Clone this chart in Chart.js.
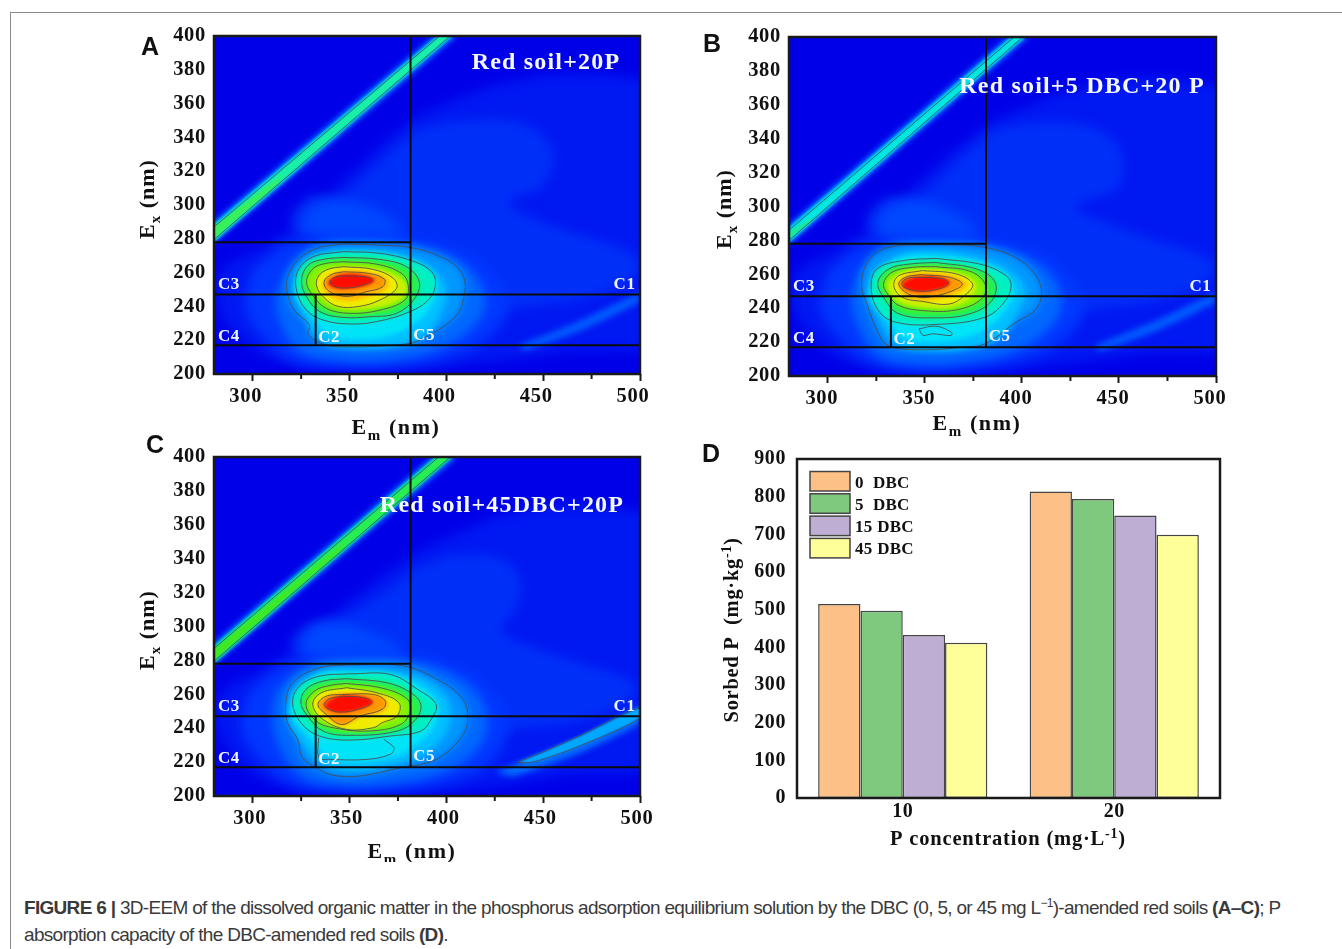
<!DOCTYPE html>
<html><head><meta charset="utf-8">
<script src="https://cdn.jsdelivr.net/npm/chart.js@4"></script>
<style>
html,body{margin:0;padding:0;background:#fff;width:1342px;height:949px;overflow:hidden}
canvas{position:absolute;display:block}
#topline{position:absolute;left:10px;top:12px;right:0;height:1px;background:#8a8a8a}
#leftline{position:absolute;left:10px;top:12px;bottom:0;width:1px;background:#8a8a8a}
.cap{position:absolute;left:24px;white-space:nowrap;font-family:"Liberation Sans",sans-serif;font-size:19px;color:#3a3a3a;letter-spacing:-.69px;line-height:20px}
.cap sup{font-size:12px;line-height:0}
</style></head><body>
<div id="topline"></div><div id="leftline"></div>
<canvas id="pa"></canvas><canvas id="pb"></canvas><canvas id="pc"></canvas><canvas id="pd"></canvas>
<div class="cap" style="top:898px"><b>FIGURE 6 |</b> 3D-EEM of the dissolved organic matter in the phosphorus adsorption equilibrium solution by the DBC (0, 5, or 45 mg L<sup>−1</sup>)-amended red soils <b>(A–C)</b>; P</div>
<div class="cap" style="top:925px">absorption capacity of the DBC-amended red soils <b>(D)</b>.</div>
<script>
// ---------- Panel D values ----------
const pConcentrations = ['10','20'];
const dbcLabels = ['0  DBC','5  DBC','15 DBC','45 DBC'];
const sorbed0 = [515,814];
const sorbed5 = [497,794];
const sorbed15 = [433,750];
const sorbed45 = [412,699];
const barColors = ['#FDC086','#7FC97F','#BEAED4','#FFFF99'];

// ---------- EEM axes ----------
const emTicks = [300,350,400,450,500];
const emMinorTicks = [325,375,425,475];

// ---------- Region boxes, [Em,Ex] ----------
const regionLines = [
 [[280,278],[381.5,278]],[[381.5,400],[381.5,217]],[[280,247],[500,247]],[[280,217],[500,217]],[[332.5,247],[332.5,217]]
];
const regionLabelsAt = {C1:[492,253],C2:[339.5,221.5],C3:[287.7,253],C4:[287.7,222],C5:[388.5,223]};

// ---------- Colour levels ----------
const levelFaint = ['#0018f2','#0030f8','#0048ff'];
const levelRings = ['#0038ff','#0068ff','#0098ff','#00c0ff','#00e4f8','#00f0c0','#28f048','#88f000','#c8f000','#f0ec00','#ffc000','#ff9800','#ff4000','#ff0c00'];
const ringBlur = [6,5,4,3,2.5,2.5,2,2,1.5,1.5,1.5,1.5,1.5,1.5];

// ---------- Panel A contours ----------
const contoursA = [
 [[346.7,276.9],[364,276.3],[381.2,274.9],[394.9,270.4],[405.3,263.5],[409.6,254.6],[408.7,243.8],[406.1,235.9],[398.4,228],[388,221.1],[381.2,218.1],[365.7,216.5],[346.7,216.1],[338.1,217.1],[328.7,223],[329.2,229],[320.9,238.8],[317.5,253.6],[322.6,266.4],[333,274.3]],
 [[346.7,272.4],[365.7,271.4],[381.2,267.4],[391.5,261.5],[394.4,254.6],[391.5,244.8],[381.2,236.9],[364,231],[350.2,229.6],[336.4,231.9],[327.8,237.8],[322.6,249.7],[323.5,261.5],[331.3,269.4]],
 [[346.7,269],[365.7,267.8],[379.4,263.5],[386,254.6],[383.7,244.8],[374.3,235.9],[360.5,233.9],[346.7,233.5],[334.7,236.9],[327.8,245.7],[325.2,255.6],[328.7,264.5],[336.4,267.8]],
 [[346.7,266.4],[364,265],[376.9,259.5],[380.3,252.6],[378.6,243.8],[365.7,237.8],[350.2,235.9],[338.1,238.8],[331.3,246.1],[327.8,254.6],[331.3,262.5],[338.1,265.5]],
 [[346.7,263.5],[362.2,261.9],[372.6,256.6],[374.3,250.7],[365.7,243.8],[355,240],[344,240],[337,245],[333,252],[334,258],[339,262]],
 [[347,260.5],[360,259.5],[368,256],[367,251.5],[358,248.5],[350,246],[343,247],[338,250.5],[337,255],[341,259]],
 [[346,258],[358,257.5],[362,255.5],[358,253],[350,251],[343,251.5],[340,254.5],[342,257]]
];
const fillsA = [
 [[300,262],[320,278],[350,283],[385,281],[410,272],[425,258],[432,240],[425,225],[410,213],[380,205],[345,204],[320,208],[305,222],[296,240]],
 [[318,262],[330,275],[350,279],[385,276],[405,268],[417,255],[420,240],[412,226],[395,214],[370,208],[345,208],[325,213],[315,228],[312,245]],
 [[326,260],[336,270],[352,273],[378,270],[393,262],[400,250],[398,238],[390,224],[374,216.5],[350,215.5],[335,220],[326,235],[322,248]],
 [[324,258],[336,268],[352,271],[376,268],[390,260],[395,250],[392,240],[384,230],[370,222.5],[350,220.5],[337,225],[329,237],[322,248]],
 [[333,256],[341,262],[354,263],[368,261],[378,255],[379,248],[372,242],[360,239],[347,239],[338,243],[334,249]],
 [[339,258],[347,261.5],[360,260.5],[370,256],[369,250],[358,245],[348,243],[340,246],[336,252]],
 [[339.5,255.5],[346,259],[357,258.5],[363,255.5],[357,252],[345,250.5],[339,253]]
];
const faintA = [
 [[515,372],[470,378],[430,372],[400,360],[382,350],[350,318],[322,288],[305,275],[285,262],[282,240],[300,215],[325,205],[370,202],[420,207],[460,213],[515,225]],
 [[385,345],[410,350],[440,348],[455,332],[450,312],[432,302],[445,292],[470,282],[495,272],[500,262],[480,248],[440,240],[410,240],[400,272],[365,280],[330,280],[320,290],[330,305],[345,305],[365,325]],
 [[325,285],[330,298],[345,303],[362,298],[375,288],[375,278],[345,278]]
];
const bandA = [
 [[280,277],[406,400],[393,400],[280,291]],
 [[280,278],[403.5,400],[395,400],[280,289]],
 [[280,279.5],[402,400],[396.5,400],[280,287]],
 [[280,280],[312,312],[316,318],[280,287.5]]
];
const tailA = [[438,217],[470,232],[500,248],[500,243],[470,226],[440,214]];

// ---------- Panel B contours ----------
const contoursB = [
 [[355.7,277.5],[381,275.9],[399.3,268],[409.4,254.3],[408,240.6],[395.8,230.8],[381,219],[369.7,217],[348.8,215.5],[331,218],[325,228],[320,243],[317.4,254],[320.9,268],[331.4,275.9]],
 [[355.7,269.4],[378.4,266],[390.6,260.2],[394.4,254.3],[391.5,244.5],[381,234.7],[355.7,230.4],[334.8,231.8],[326.1,238.6],[322.3,252.4],[325.3,263.1],[338.3,268]],
 [[355.7,267],[376.7,263.1],[386.2,255.3],[384.5,244.5],[373.2,236.7],[355.7,234.3],[336.6,236.7],[328.7,246.5],[325.8,255.3],[331.4,263.1],[341.8,266]],
 [[355.7,264.5],[373.2,261.8],[381,254.3],[379.3,245.5],[366.2,239],[348.8,238.6],[336.6,241.6],[331.4,247.5],[328.7,254.3],[333.1,261.2],[343.6,264.1]],
 [[348.8,262.2],[366.2,260.2],[374.6,254.3],[371.4,248.4],[362.7,242.5],[348.8,244],[338.3,246.5],[334,253.3],[336.6,259.2]],
 [[347.9,259.8],[362.7,258.2],[369.3,254.3],[364.5,250.4],[354,246.9],[347,246.5],[340,249.4],[336.6,254.3],[340,258.2]],
 [[348,258.2],[359.2,257.3],[362.2,254.7],[358.4,251.8],[347.9,250],[339.2,252.4],[338.3,255.3],[341.8,257.8]]
];
const fillsB = [
 [[300,262],[320,278],[352,283],[385,281],[410,272],[425,258],[432,240],[425,225],[410,213],[380,205],[348,203],[322,208],[306,222],[296,240]],
 [[316,262],[330,275],[352,279],[385,276],[406,268],[418,255],[420,240],[412,226],[395,214],[370,208],[347,207],[326,212],[316,228],[312,245]],
 [[324,260],[336,271],[354,274],[378,270],[394,262],[402,250],[398,238],[390,224],[374,216.5],[350,215],[335,219],[326,235],[320,248]],
 [[325,258],[336,269],[354,271],[378,267],[391,260],[396,250],[392,240],[384,230],[370,222.5],[350,220],[337,224],[329,237],[322,248]],
 [[331,255],[338,261],[350,263],[366,261],[376,255],[375,248],[366,241.5],[350,240.5],[338,243.5],[332,249]],
 [[336,255],[341,260],[350,261],[364,259.5],[372,254.5],[368,249.5],[358,245.5],[347,244.5],[339,247.5]],
 [[339.5,255],[347,258.5],[359,257.8],[363,254.7],[357,251.5],[346,250],[339,252.5]]
];
const faintB = [
 [[515,368],[470,376],[430,370],[400,358],[382,348],[350,318],[322,288],[305,275],[285,262],[282,240],[300,215],[325,204],[370,202],[420,207],[460,213],[515,225]],
 [[385,345],[410,350],[435,347],[450,335],[450,312],[428,300],[445,290],[470,280],[495,270],[500,262],[480,248],[440,240],[410,240],[400,272],[365,280],[330,280],[320,290],[330,305],[345,305],[365,325]],
 [[325,285],[330,298],[345,304],[362,298],[375,288],[375,278],[345,278]]
];
const bandB = [
 [[280,277],[404,400],[392,400],[280,290]],
 [[280,278.6],[402,400],[394,400],[280,288]],
 [[280,280],[400.5,400],[396,400],[280,286]],
 [[280,281],[290,290],[293,294],[280,285]]
];
const tailB = [[438,218],[470,233],[500,249],[500,244],[470,227],[440,215]];
const islandB = [[347,227.8],[355.7,229.4],[363.6,225.9],[363.6,223.9],[354,224.9],[349,224],[347,227.8]];

// ---------- Panel C contours ----------
const contoursC = [
 [[350.2,277.4],[376.4,277],[393.8,269.7],[408.6,257],[410.9,243.2],[406.9,233.4],[399,224.6],[390.2,219.6],[376.4,216.7],[355.4,211.8],[341.5,212.2],[334.5,215.7],[325.8,222.6],[323.2,233.4],[318,243.2],[317.1,255],[320.6,266.8],[334.5,275.6]],
 [[350.2,272.1],[371.1,271.7],[385.1,262.9],[394.7,254],[392.1,245.2],[386.8,238.3],[371.1,235.4],[350.2,233],[334.5,235.4],[324.9,243.2],[320.6,255],[324.1,264.8],[334.5,270.7]],
 [[348.5,269.2],[369.4,266.8],[381.6,260.9],[386.8,254],[384.2,245.2],[374.6,238.3],[350.2,235.8],[336.3,238.3],[328.4,247.2],[324.9,255],[327.5,262.9],[336.3,267.8]],
 [[348.5,266.4],[365.9,263.9],[379,258],[381.6,251.1],[376.4,242.2],[358.9,238.3],[341.5,240.3],[332.8,244.2],[327.5,254],[331.9,261.9],[339.8,265.2]],
 [[348.5,263.9],[364.2,260.9],[375.5,255],[374.6,247.2],[366.8,243.2],[362.4,240.3],[348.5,239.3],[336.3,245.2],[331,254],[335.4,260.9]],
 [[346.7,259.9],[362.4,259.9],[368.5,256],[366.8,251.1],[355.4,247.2],[345.9,242.2],[338,248.1],[333.7,254],[338,258.9]],
 [[346.7,258.9],[357.2,258],[361.6,255.4],[357.2,252.1],[345,249.5],[337.1,253],[338.9,257]]
];
const fillsC = [
 [[298,262],[320,279],[350,284],[385,283],[410,274],[425,260],[432,242],[425,222],[410,211],[380,204],[348,203],[322,206],[305,220],[294,240]],
 [[312,262],[328,277],[350,281],[385,279],[406,270],[418,257],[421,240],[413,224],[396,213],[370,207],[345,206],[326,211],[315,226],[310,245]],
 [[320,260],[334,273],[352,275],[380,272],[395,264],[402,252],[400,238],[390,226],[375,219],[352,215],[336,219],[325,232],[318,248]],
 [[322,258],[334,271],[352,273],[376,270],[390,262],[396,252],[393,240],[384,230],[375,224],[352,220],[338,224],[328,236],[320,248]],
 [[333,254],[338,260],[348,262],[362,260],[372,254.5],[372,248],[365,242],[348,240.5],[338,245]],
 [[335,254],[340,259.5],[348,261],[362,259.8],[370,255.5],[368,250],[356,246],[346,241.5],[338,247]],
 [[338.5,254.5],[345.5,259],[357,258.2],[362,255.4],[357,252.2],[345,249.5],[338,252]]
];
const faintC = [
 [[515,365],[470,372],[430,366],[400,352],[382,342],[350,315],[322,288],[305,275],[285,262],[282,240],[298,215],[325,203],[370,201],[420,205],[460,212],[515,225]],
 [[385,335],[405,342],[428,340],[438,328],[436,310],[428,298],[445,288],[470,278],[492,270],[498,262],[480,248],[440,240],[410,240],[400,272],[365,280],[330,280],[320,290],[330,302],[345,305],[365,318]],
 [[325,285],[330,298],[345,302],[362,296],[375,288],[375,278],[345,278]]
];
const bandC = [
 [[280,277],[406,400],[392,400],[280,291]],
 [[280,278],[403.5,400],[394,400],[280,289]],
 [[280,279.5],[402,400],[396,400],[280,287]],
 [[280,280.5],[345,345],[348,350],[280,286]]
];
const tailC = [[425,214],[470,234],[500,253],[500,243],[470,226],[435,212]];
const tailContourC = [[437,220],[450,226],[470,236],[500,252],[500,246],[470,230],[448,221],[441,219.5],[437,220]];
const islandC = [[334,234.4],[334.2,222.6],[340,221.6],[359,221.6],[371.1,224.6],[372.9,228.5],[367.7,233.4]];

const bandColorsA = ['#0058ff','#00c8e8','#18f0a8','#38f058'];
const bandColorsB = ['#0058ff','#00c8f0','#00e8e0','#20e890'];
const bandColorsC = ['#0058ff','#00d8b0','#28ee50','#40e820'];

const BG = '#0000e8';
const SERIF = '"Liberation Serif",serif';
const PAD_L = 100, PAD_T = 30, PAD_R = 32, AXIS_H = 66;
const pts = a => a.map(p => ({x:p[0],y:p[1]}));
const closed = a => pts(a.concat([a[0]]));
const fillDs = (a,color,blur,tension) => ({data:closed(a),showLine:true,fill:'shape',backgroundColor:color,borderWidth:0,pointRadius:0,tension:tension===undefined?.38:tension,fillBlur:blur});
const lineDs = (a,color,w,tension,blur,close) => ({data:close===false?pts(a):closed(a),showLine:true,fill:false,borderColor:color,borderWidth:w,pointRadius:0,tension:tension,lineBlur:blur});

// Text with sub / superscript runs, placed in page pixels
function drawRuns(ctx,box,t){
  ctx.save();
  ctx.filter='none';
  ctx.translate(t.x-box.left,t.y-box.top);
  if(t.rot) ctx.rotate(t.rot);
  ctx.fillStyle=t.color||'#111';
  ctx.textBaseline='alphabetic';ctx.textAlign='left';
  ctx.letterSpacing=(t.ls||0)+'px';
  const fam=t.family||SERIF, sz=t.size;
  const fontOf=k=>'bold '+(k?sz*.68:sz)+'px '+fam;
  let w=0;
  t.runs.forEach(r=>{ctx.font=fontOf(r[1]);w+=ctx.measureText(r[0]).width;});
  let x=t.left?0:-w/2;
  t.runs.forEach(r=>{
    ctx.font=fontOf(r[1]);
    const dy=r[1]==='sub'?sz*.26:r[1]==='sup'?-sz*.36:0;
    ctx.fillText(r[0],x,dy);
    x+=ctx.measureText(r[0]).width;
  });
  ctx.restore();
}

const framePlugin = (box,texts,minor,frameW) => ({
  id:'frameAndText',
  beforeDraw(c){
    c.ctx.letterSpacing=box.tickLs+'px';
  },
  beforeDatasetsDraw(c){
    const a=c.chartArea;
    if(box.bg){c.ctx.fillStyle=box.bg;c.ctx.fillRect(a.left,a.top,a.right-a.left,a.bottom-a.top);}
    setNextFilter(c,null);
  },
  beforeDatasetDraw(c,args){
    const ds=c.data.datasets[args.index];
    c.ctx.filter=ds.lineBlur?('blur('+ds.lineBlur+'px)'):'none';
  },
  afterDatasetDraw(c,args){ setNextFilter(c,args.index); },
  afterDatasetsDraw(c){ c.ctx.filter='none'; },
  afterDraw(c){
    const ctx=c.ctx,a=c.chartArea;
    ctx.save();
    ctx.filter='none';
    ctx.strokeStyle='#1a1a1a';ctx.lineWidth=frameW;
    ctx.strokeRect(a.left,a.top,a.right-a.left,a.bottom-a.top);
    if(minor){
      ctx.lineWidth=2;
      minor.forEach(v=>{const x=c.scales.x.getPixelForValue(v);ctx.beginPath();ctx.moveTo(x,a.bottom);ctx.lineTo(x,a.bottom+5);ctx.stroke();});
    }
    ctx.restore();
    (box.regionText||[]).forEach(k=>{
      const p=regionLabelsAt[k];
      ctx.save();ctx.letterSpacing='0.5px';ctx.font='bold 17px '+SERIF;ctx.fillStyle='#eef4ff';ctx.textAlign='center';ctx.textBaseline='middle';
      ctx.fillText(k,c.scales.x.getPixelForValue(p[0]),c.scales.y.getPixelForValue(p[1]));ctx.restore();
    });
    texts.forEach(t=>drawRuns(ctx,box,t));
    if(box.legend){
      c.data.datasets.forEach((ds,i)=>{
        const y=box.legend.y+i*box.legend.step;
        ctx.save();
        ctx.fillStyle=ds.backgroundColor;ctx.strokeStyle='#444';ctx.lineWidth=1.5;
        ctx.fillRect(box.legend.x-box.left,y-box.top,40,19.5);ctx.strokeRect(box.legend.x-box.left,y-box.top,40,19.5);
        ctx.restore();
        drawRuns(ctx,box,{runs:[[ds.label]],x:box.legend.x+45,y:y+16,size:17,ls:.3,left:true});
      });
    }
  }
});
function setNextFilter(c,idx){
  const metas=c.getSortedVisibleDatasetMetas();
  let pos = idx===null ? metas.length-1 : metas.findIndex(m=>m.index===idx)-1;
  if(pos<0){c.ctx.filter='none';return;}
  const ds=c.data.datasets[metas[pos].index];
  c.ctx.filter=ds.fillBlur?('blur('+ds.fillBlur+'px)'):'none';
}
function setupCanvas(id,box){
  const el=document.getElementById(id);
  el.width=box.width;el.height=box.height;
  el.style.left=box.left+'px';el.style.top=box.top+'px';el.style.width=box.width+'px';el.style.height=box.height+'px';
  return el;
}
function eemPanel(id,plot,P,texts){
  const box={left:plot.l-PAD_L,top:plot.t-PAD_T,width:plot.r-plot.l+PAD_L+PAD_R,height:plot.b-plot.t+PAD_T+AXIS_H,bg:BG,tickLs:.7,regionText:['C1','C2','C3','C4','C5']};
  const c=P.contours,f=P.fills;
  const paint=[f[0],f[1],c[0],f[2],f[3],c[1],c[2],c[3],f[4],c[4],f[5],c[5],c[6],f[6]];
  let ds=[];
  P.faint.forEach((r,i)=>ds.push(fillDs(r,levelFaint[i],6)));
  P.tail.forEach(t=>ds.push(fillDs(t[0],t[1],t[2],.2)));
  P.band.forEach((r,i)=>ds.push(fillDs(r,P.bandColors[i],i===0?2.5:1,0)));
  paint.forEach((r,i)=>ds.push(fillDs(r,levelRings[i],ringBlur[i])));
  const lc='rgba(75,75,75,.85)';
  c.forEach(r=>ds.push(lineDs(r,lc,1,.38,.35)));
  ds.push(lineDs(P.band[2],'rgba(60,90,90,.85)',1,0,.35));
  (P.extra||[]).forEach(e=>ds.push(lineDs(e[0],lc,1,.35,.35,e[1])));
  regionLines.forEach(s=>ds.push(Object.assign(lineDs(s,'#0b0b0b',2,0,0,false),{lineBlur:0})));
  ds.reverse();
  new Chart(setupCanvas(id,box),{
    type:'scatter',
    data:{datasets:ds},
    options:{
      responsive:false,animation:false,events:[],devicePixelRatio:1,
      layout:{padding:{top:PAD_T,right:PAD_R,left:0,bottom:0}},
      plugins:{legend:{display:false},tooltip:{enabled:false}},
      scales:{
        x:{type:'linear',min:280,max:500,
          afterBuildTicks(s){s.ticks=emTicks.map(v=>({value:v}));},
          afterFit(s){s.height=AXIS_H;},
          grid:{drawOnChartArea:false,drawTicks:true,tickLength:7,tickWidth:2,tickColor:'#1a1a1a'},
          border:{display:false},
          ticks:{autoSkip:false,maxRotation:0,color:'#111',padding:3,labelOffset:P.labelOffset,font:{family:SERIF,weight:'bold',size:20.5}}},
        y:{type:'linear',min:200,max:400,
          afterFit(s){s.width=PAD_L;},
          grid:{drawOnChartArea:false,drawTicks:false},
          border:{display:false},
          ticks:{stepSize:20,color:'#111',padding:8,font:{family:SERIF,weight:'bold',size:20.5}}}
      }
    },
    plugins:[framePlugin(box,texts,emMinorTicks,2.5)]
  });
}
const insetSize=24;
eemPanel('pa',{l:214,t:36,r:640,b:374},
 {contours:contoursA,fills:fillsA,faint:faintA,band:bandA,bandColors:bandColorsA,tail:[[tailA,'#0060ff',3]],labelOffset:-7},
 [{runs:[['A']],x:150,y:55,size:25,family:'"Liberation Sans",sans-serif'},
  {runs:[['Red soil+20P']],x:546,y:69,size:insetSize,color:'#f4f8ff',ls:1.2},
  {runs:[['E'],['x','sub'],[' (nm)']],x:154,y:199,size:22,rot:-Math.PI/2,ls:1},
  {runs:[['E'],['m','sub'],[' (nm)']],x:396,y:434,size:22,ls:1.6}]);
eemPanel('pb',{l:789,t:37,r:1216,b:376},
 {contours:contoursB,fills:fillsB,faint:faintB,band:bandB,bandColors:bandColorsB,tail:[[tailB,'#0060ff',3]],extra:[[islandB,false]],labelOffset:-6},
 [{runs:[['B']],x:712,y:52,size:25,family:'"Liberation Sans",sans-serif'},
  {runs:[['Red soil+5 DBC+20 P']],x:1082,y:93,size:insetSize,color:'#f4f8ff',ls:1.2},
  {runs:[['E'],['x','sub'],[' (nm)']],x:731,y:209,size:22,rot:-Math.PI/2,ls:1},
  {runs:[['E'],['m','sub'],[' (nm)']],x:977,y:430,size:22,ls:1.6}]);
eemPanel('pc',{l:214,t:457,r:640,b:796},
 {contours:contoursC,fills:fillsC,faint:faintC,band:bandC,bandColors:bandColorsC,tail:[[tailC,'#0070ff',3],[tailContourC,'#00a8ff',1]],extra:[[tailContourC,false],[islandC,false]],labelOffset:-3},
 [{runs:[['C']],x:155,y:453,size:25,family:'"Liberation Sans",sans-serif'},
  {runs:[['Red soil+45DBC+20P']],x:502,y:512,size:insetSize,color:'#f4f8ff',ls:1.2},
  {runs:[['E'],['x','sub'],[' (nm)']],x:154,y:630,size:22,rot:-Math.PI/2,ls:1},
  {runs:[['E'],['m','sub'],[' (nm)']],x:412,y:858,size:22,ls:1.6}]);

// Panel D
(function(){
  const plot={l:797,t:459,r:1220,b:798};
  const box={left:plot.l-PAD_L,top:plot.t-PAD_T,width:plot.r-plot.l+PAD_L+PAD_R,height:plot.b-plot.t+PAD_T+AXIS_H,tickLs:.6,
    legend:{x:810,y:471.5,step:22.3}};
  const series=[sorbed0,sorbed5,sorbed15,sorbed45];
  new Chart(setupCanvas('pd',box),{
    type:'bar',
    data:{labels:pConcentrations,datasets:series.map((v,i)=>({label:dbcLabels[i],data:v,backgroundColor:barColors[i],borderColor:'#454545',borderWidth:1.5,borderSkipped:false,categoryPercentage:.8,barPercentage:1}))},
    options:{
      responsive:false,animation:false,events:[],devicePixelRatio:1,
      layout:{padding:{top:PAD_T,right:PAD_R,left:0,bottom:0}},
      plugins:{legend:{display:false},tooltip:{enabled:false}},
      scales:{
        x:{afterFit(s){s.height=AXIS_H;},grid:{display:false,drawTicks:false},border:{display:false},
          ticks:{color:'#111',padding:2,maxRotation:0,font:{family:SERIF,weight:'bold',size:20}}},
        y:{min:0,max:900,afterFit(s){s.width=PAD_L;},grid:{display:false,drawTicks:false},border:{display:false},
          ticks:{stepSize:100,color:'#111',padding:11,font:{family:SERIF,weight:'bold',size:20}}}
      }
    },
    plugins:[framePlugin(box,[
      {runs:[['D']],x:711,y:462,size:25,family:'"Liberation Sans",sans-serif'},
      {runs:[['Sorbed P  (mg·kg'],['-1','sup'],[')']],x:738,y:630,size:20.5,rot:-Math.PI/2,ls:.7},
      {runs:[['P concentration (mg·L'],['-1','sup'],[')']],x:1008,y:845,size:20.5,ls:.8}
    ],null,2.5)]
  });
})();
</script>
</body></html>
